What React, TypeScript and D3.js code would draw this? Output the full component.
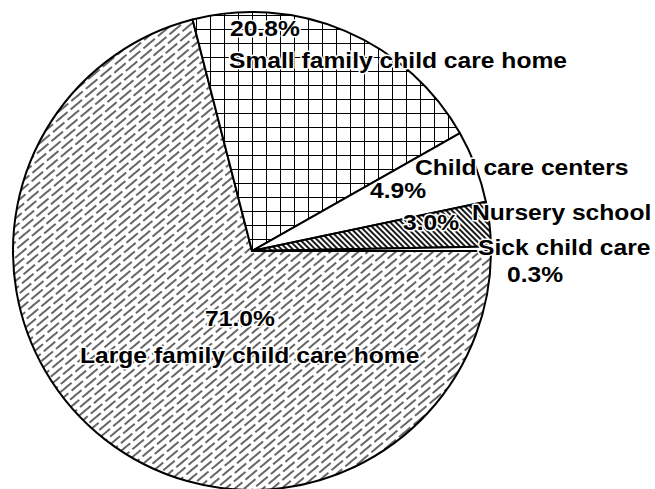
import React from "react";
import * as d3 from "d3";

const categories = [
  "Large family child care home",
  "Small family child care home",
  "Child care centers",
  "Nursery school",
  "Sick child care",
];
const shares = [71.0, 20.8, 4.9, 3.0, 0.3];
const pctLabels = ["71.0%", "20.8%", "4.9%", "3.0%", "0.3%"];

// layout (not data)
const W = 655;
const H = 489;
const CX = 252;
const CY = 251;
const R = 239;
const fills = ["url(#pLarge)", "url(#pGrid)", "#fff", "url(#pNursery)", "#fff"];
const nameLayout = [
  [80, 363],
  [229, 68],
  [415, 175],
  [472, 220],
  [478, 255],
];
const pctLayout = [
  [205, 326],
  [230, 36],
  [370, 198],
  [403, 230],
  [507, 282],
];
const dashOffsets = [0, 11, 5, 15, 8];

const Label = ({ x, y, text }: { x: number; y: number; text: string }) => (
  <text
    transform={`translate(${x},${y}) scale(1.12,1)`}
    fontFamily="'Liberation Sans', Arial, Helvetica, sans-serif"
    fontWeight="bold"
    fontSize={22}
    fill="#000"
    stroke="#fff"
    strokeWidth={3}
    paintOrder="stroke"
    strokeLinejoin="round"
  >
    {text}
  </text>
);

export default function App() {
  const pie = d3
    .pie<number>()
    .sort(null)
    .value((d) => d)
    .startAngle(Math.PI / 2)
    .endAngle(Math.PI / 2 + 2 * Math.PI);
  const arcs = pie(shares);
  const arcGen = d3.arc<d3.PieArcDatum<number>>().innerRadius(0).outerRadius(R);

  return (
    <svg
      width={W}
      height={H}
      style={{ position: "absolute", left: 0, top: 0, background: "#fff" }}
    >
      <defs>
        <pattern
          id="pLarge"
          patternUnits="userSpaceOnUse"
          width={30}
          height={19}
          patternTransform="rotate(50)"
        >
          <rect width={30} height={19} fill="#fff" />
          {dashOffsets.map((o, k) => (
            <line
              key={k}
              x1={3 + k * 6}
              y1={0}
              x2={3 + k * 6}
              y2={19}
              stroke="#000"
              strokeWidth={1.2}
              strokeDasharray="15 4"
              strokeDashoffset={o}
            />
          ))}
        </pattern>
        <pattern id="pGrid" patternUnits="userSpaceOnUse" width={14} height={14} x={0} y={2}>
          <rect width={14} height={14} fill="#fff" />
          <line x1={0} y1={0} x2={14} y2={0} stroke="#000" strokeWidth={2} />
          <line x1={0} y1={0} x2={0} y2={14} stroke="#000" strokeWidth={2} />
        </pattern>
        <pattern
          id="pNursery"
          patternUnits="userSpaceOnUse"
          width={4}
          height={4}
          patternTransform="rotate(-45)"
        >
          <rect width={4} height={4} fill="#fff" />
          <line x1={2} y1={0} x2={2} y2={4} stroke="#000" strokeWidth={1.8} />
        </pattern>
      </defs>
      <g transform={`translate(${CX},${CY})`}>
        {arcs.map((a, i) => (
          <path
            key={categories[i]}
            d={arcGen(a) || ""}
            fill={fills[i]}
            stroke="#000"
            strokeWidth={2}
            strokeLinejoin="round"
          />
        ))}
      </g>
      {categories.map((c, i) => (
        <g key={"lab" + c}>
          <Label x={pctLayout[i][0]} y={pctLayout[i][1]} text={pctLabels[i]} />
          <Label x={nameLayout[i][0]} y={nameLayout[i][1]} text={c} />
        </g>
      ))}
    </svg>
  );
}
